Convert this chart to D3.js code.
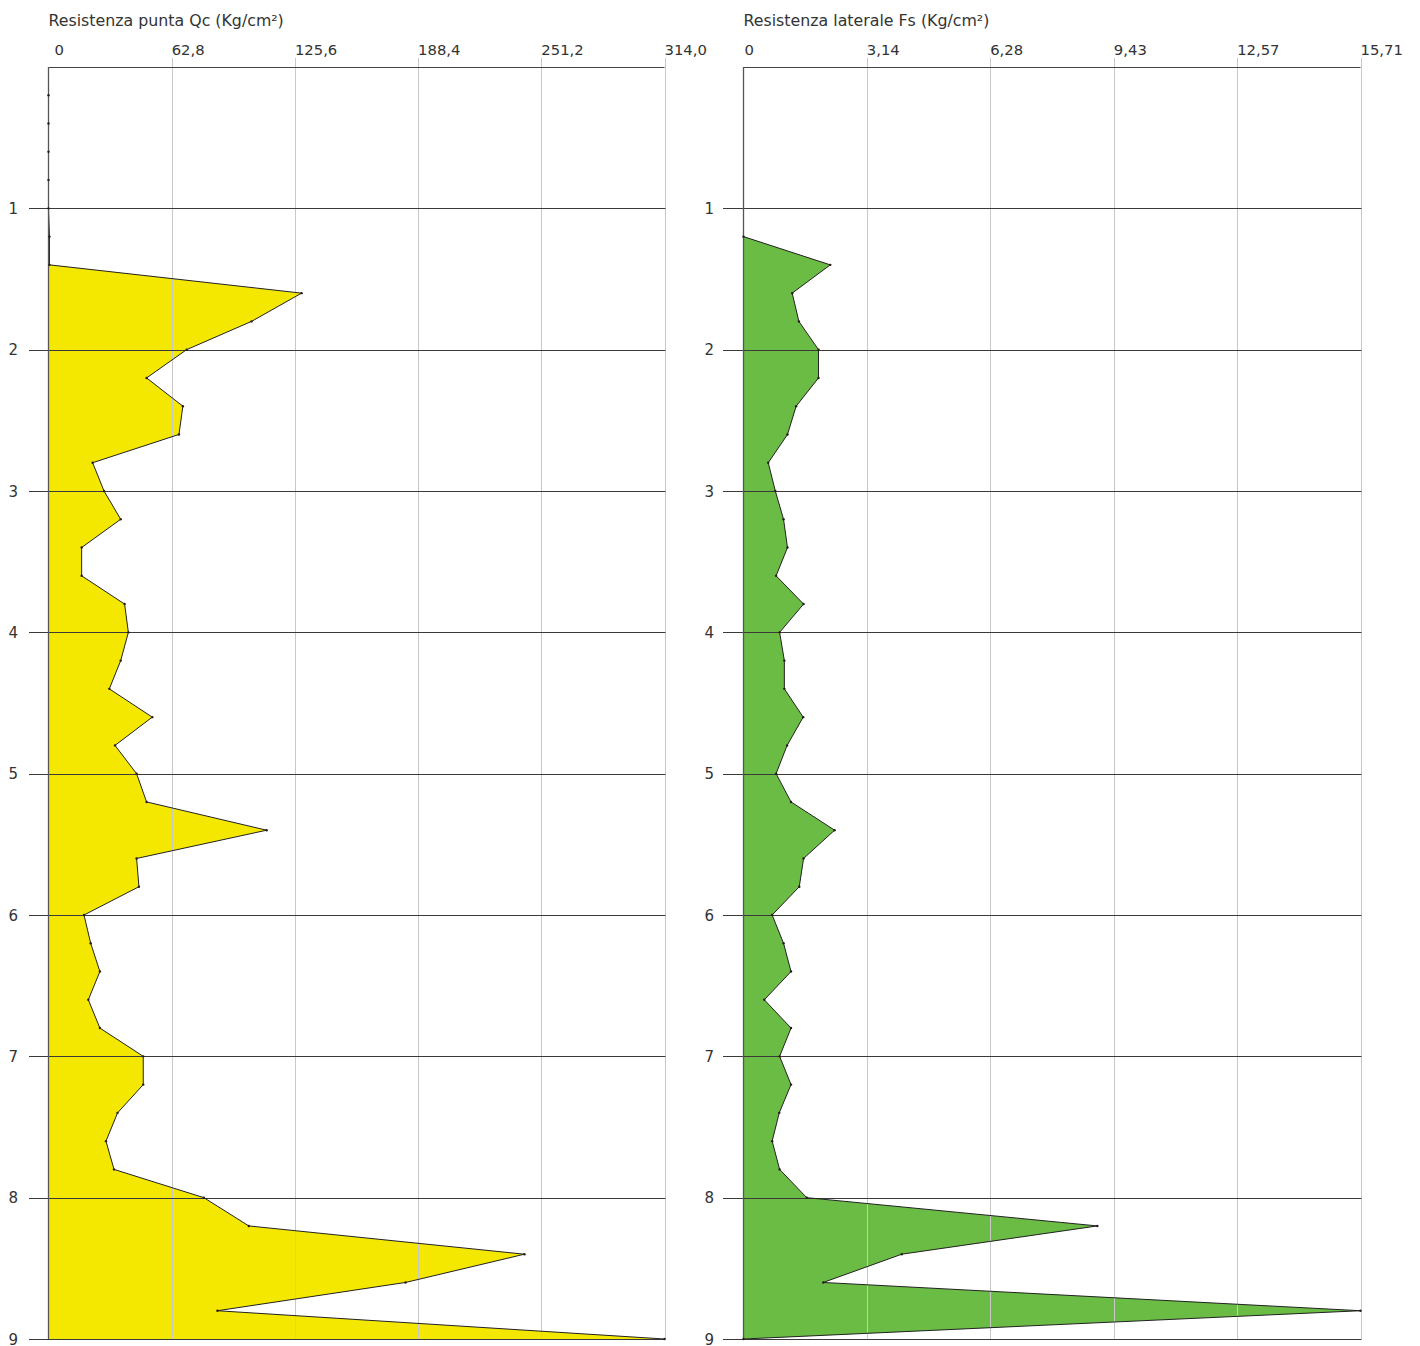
<!DOCTYPE html>
<html>
<head>
<meta charset="utf-8">
<script src="https://cdn.jsdelivr.net/npm/d3@7"></script>
<style>
  html, body { margin: 0; padding: 0; background: #fff; }
  svg { display: block; }
  text { font-family: "DejaVu Sans", sans-serif; fill: #333; }
</style>
</head>
<body>
<svg id="chart" width="1420" height="1346"></svg>
<script>
// ---------- DATA ----------
const depths = [0.2,0.4,0.6,0.8,1.0,1.2,1.4,1.6,1.8,2.0,2.2,2.4,2.6,2.8,3.0,3.2,3.4,3.6,3.8,4.0,
                4.2,4.4,4.6,4.8,5.0,5.2,5.4,5.6,5.8,6.0,6.2,6.4,6.6,6.8,7.0,7.2,7.4,7.6,7.8,8.0,
                8.2,8.4,8.6,8.8,9.0];
const qcValues = [0,0,0,0,0,0.5,0.5,129,103.5,70.4,50,68.5,66.5,22.5,28.3,36.8,16.9,16.9,38.8,40.7,
                  36.8,31,52.9,33.9,44.9,50,111.2,44.9,46.1,18.1,21.5,26.2,20.3,26.2,48.3,48.3,35.2,29.3,33.4,79.2,
                  102.1,242.6,182,86.1,314];
const fsValues = [null,null,null,null,null,0,2.21,1.24,1.41,1.91,1.91,1.34,1.12,0.63,0.81,1.02,1.12,0.83,1.53,0.92,
                  1.04,1.04,1.52,1.11,0.83,1.21,2.32,1.53,1.42,0.73,1.02,1.21,0.53,1.21,0.92,1.21,0.91,0.73,0.92,1.61,
                  9.01,4.03,2.03,15.71,0];
const qcTicks = [0, 62.8, 125.6, 188.4, 251.2, 314.0];
const qcTickLabels = ["0", "62,8", "125,6", "188,4", "251,2", "314,0"];
const fsTicks = [0, 3.14, 6.28, 9.43, 12.57, 15.71];
const fsTickLabels = ["0", "3,14", "6,28", "9,43", "12,57", "15,71"];
const depthTicks = [1,2,3,4,5,6,7,8,9];
const depthTickLabels = ["1","2","3","4","5","6","7","8","9"];
const panelTitles = ["Resistenza punta Qc (Kg/cm²)", "Resistenza laterale Fs (Kg/cm²)"];

// ---------- DRAW ----------
const svg = d3.select("#chart");
const y = d3.scaleLinear().domain([0, 9]).range([67, 1339]);

const panels = [
  { title: panelTitles[0], values: qcValues, max: 314, ticks: qcTicks, labels: qcTickLabels,
    range: [48.5, 664.5], fill: "#f4e800", zeroOffset: 6, depthLabelX: 18, tickLeft: 29 },
  { title: panelTitles[1], values: fsValues, max: 15.71, ticks: fsTicks, labels: fsTickLabels,
    range: [743.5, 1360.5], fill: "#6abc45", zeroOffset: 1, depthLabelX: 714, tickLeft: 723 }
];

panels.forEach(p => {
  const x = d3.scaleLinear().domain([0, p.max]).range(p.range);
  const g = svg.append("g");
  const data = depths.map((d, i) => ({ d, v: p.values[i] })).filter(e => e.v !== null);

  // title
  g.append("text")
    .attr("x", x(0)).attr("y", 26)
    .attr("font-size", 15.8)
    .text(p.title);

  // area fill
  const area = d3.area()
    .y(d => y(d.d))
    .x0(x(0))
    .x1(d => x(d.v));
  g.append("path").datum(data)
    .attr("d", area)
    .attr("fill", p.fill)
    .attr("stroke", "none");

  // vertical grid lines
  g.selectAll("line.vg").data(p.ticks.slice(1)).join("line")
    .attr("x1", d => Math.round(x(d)) + 0.5).attr("x2", d => Math.round(x(d)) + 0.5)
    .attr("y1", 58).attr("y2", y(9))
    .attr("stroke", "#c8c8c8").attr("stroke-width", 1);

  // tick labels
  g.selectAll("text.xt").data(p.ticks).join("text")
    .attr("x", (d, i) => x(d) + (i === 0 ? p.zeroOffset : 0))
    .attr("y", 55)
    .attr("font-size", 14.8)
    .text((d, i) => p.labels[i]);

  // horizontal depth grid lines
  g.selectAll("line.hg").data(depthTicks).join("line")
    .attr("x1", p.tickLeft).attr("x2", x(p.max) + 1)
    .attr("y1", d => Math.round(y(d)) + 0.5).attr("y2", d => Math.round(y(d)) + 0.5)
    .attr("stroke", "#3a3a3a").attr("stroke-width", 1);

  // depth labels
  g.selectAll("text.yt").data(depthTicks).join("text")
    .attr("x", p.depthLabelX)
    .attr("y", d => y(d) + 5.5)
    .attr("text-anchor", "end")
    .attr("font-size", 15)
    .text((d, i) => depthTickLabels[i]);

  // outline of profile
  const line = d3.line().x(d => x(d.v)).y(d => y(d.d));
  g.append("path").datum(data)
    .attr("d", line)
    .attr("fill", "none")
    .attr("stroke", "#222")
    .attr("stroke-width", 1);

  // axes: top and left
  g.append("line")
    .attr("x1", x(0)).attr("x2", x(p.max))
    .attr("y1", 67.5).attr("y2", 67.5)
    .attr("stroke", "#444").attr("stroke-width", 1.2);
  g.append("line")
    .attr("x1", x(0)).attr("x2", x(0))
    .attr("y1", 67).attr("y2", y(9))
    .attr("stroke", "#555").attr("stroke-width", 1.3);

  // vertex dots
  g.selectAll("circle.pt").data(data).join("circle")
    .attr("cx", d => x(d.v)).attr("cy", d => y(d.d))
    .attr("r", 1.2)
    .attr("fill", "#2a1a1a");
});
</script>
</body>
</html>
